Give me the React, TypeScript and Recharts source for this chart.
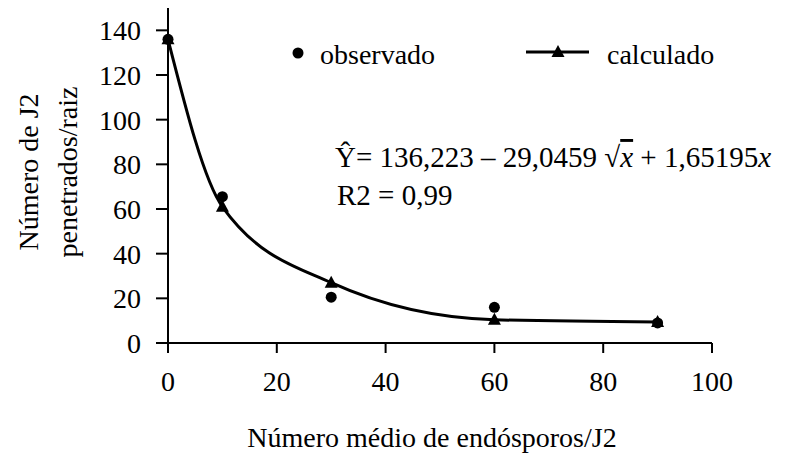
import React from 'react';
import { LineChart, Line, XAxis, YAxis, Label } from 'recharts';

const xValues = [0, 10, 30, 60, 90];
const observado = [136, 65.5, 20.5, 16, 9];
const calculado = [136, 61, 27, 10.4, 9.4];
const xTicks = [0, 20, 40, 60, 80, 100];
const yTicks = [0, 20, 40, 60, 80, 100, 120, 140];
const seriesNames = ['observado', 'calculado'];
const yTitle = ['Número de J2', 'penetrados/raiz'];
const xTitle = 'Número médio de endósporos/J2';
const equation = ['136,223 – 29,0459 ', 'x', ' + 1,65195', 'x'];
const r2Text = 'R2 = 0,99';

const FONT = '"Liberation Serif", "Times New Roman", serif';
const FS = 28;
const txt = { fontFamily: FONT };

const data = xValues.map((x, i) => ({
  x,
  observado: observado[i],
  calculado: calculado[i],
}));

const Triangle = (props: any) => {
  const { cx, cy, index } = props;
  if (cx == null || cy == null) return <g key={index} />;
  return (
    <polygon
      key={index}
      points={`${cx},${cy - 7} ${cx - 6.5},${cy + 5} ${cx + 6.5},${cy + 5}`}
      fill="#000"
    />
  );
};

export default function App() {
  return (
    <div
      style={{
        position: 'absolute',
        left: 0,
        top: 0,
        width: 788,
        height: 463,
        background: '#fff',
        fontFamily: FONT,
      }}
    >
      <LineChart
        width={788}
        height={463}
        data={data}
        margin={{ top: 8, right: 76, left: 0, bottom: 0 }}
        style={txt}
      >
        <XAxis
          type="number"
          dataKey="x"
          domain={[0, 100]}
          ticks={xTicks}
          height={120}
          tickSize={10}
          tickMargin={18}
          axisLine={{ stroke: '#000', strokeWidth: 2 }}
          tickLine={{ stroke: '#000', strokeWidth: 2 }}
          tick={{ fill: '#000', fontSize: FS, style: txt }}
        >
          <Label
            content={() => (
              <text x={432} y={447} textAnchor="middle" fontSize={FS} style={txt} fill="#000">
                {xTitle}
              </text>
            )}
          />
        </XAxis>
        <YAxis
          type="number"
          domain={[0, 150]}
          ticks={yTicks}
          width={168}
          tickSize={12}
          tickMargin={15}
          axisLine={{ stroke: '#000', strokeWidth: 2 }}
          tickLine={{ stroke: '#000', strokeWidth: 2 }}
          tick={{ fill: '#000', fontSize: FS, style: txt }}
        >
          <Label
            content={() => (
              <g>
                {yTitle.map((t, i) => (
                  <text
                    key={t}
                    x={28 + i * 39}
                    y={172}
                    transform={`rotate(-90, ${28 + i * 39}, 172)`}
                    textAnchor="middle"
                    dominantBaseline="central"
                    fontSize={FS}
                    style={txt}
                    fill="#000"
                  >
                    {t}
                  </text>
                ))}
              </g>
            )}
          />
        </YAxis>
        <Line
          dataKey="calculado"
          type="monotone"
          stroke="#000"
          strokeWidth={3}
          dot={Triangle}
          activeDot={false}
          isAnimationActive={false}
        />
        <Line
          dataKey="observado"
          stroke="none"
          dot={{ r: 5.5, fill: '#000', stroke: 'none' }}
          activeDot={false}
          isAnimationActive={false}
        />
      </LineChart>
      <svg
        width={788}
        height={463}
        style={{ position: 'absolute', left: 0, top: 0, pointerEvents: 'none', fontFamily: FONT }}
        fontSize={FS}
      >
        <circle cx={298} cy={53} r={5.5} fill="#000" />
        <text x={320} y={64} fill="#000" style={txt}>{seriesNames[0]}</text>
        <line x1={526} y1={52} x2={589} y2={52} stroke="#000" strokeWidth={3} />
        <polygon points="558,45 551.5,57 564.5,57" fill="#000" />
        <text x={607} y={64} fill="#000" style={txt}>{seriesNames[1]}</text>
        <text x={335} y={167} fill="#000" fontSize={29} style={txt}>
          <tspan style={txt}>{'Ŷ= ' + equation[0]}</tspan>
          <tspan style={txt}>√</tspan>
          <tspan style={txt} fontStyle="italic" textDecoration="overline">{equation[1]}</tspan>
          <tspan style={txt}>{equation[2]}</tspan>
          <tspan style={txt} fontStyle="italic">{equation[3]}</tspan>
        </text>
        <text x={337} y={205} fill="#000" fontSize={29} style={txt}>{r2Text}</text>
      </svg>
    </div>
  );
}
